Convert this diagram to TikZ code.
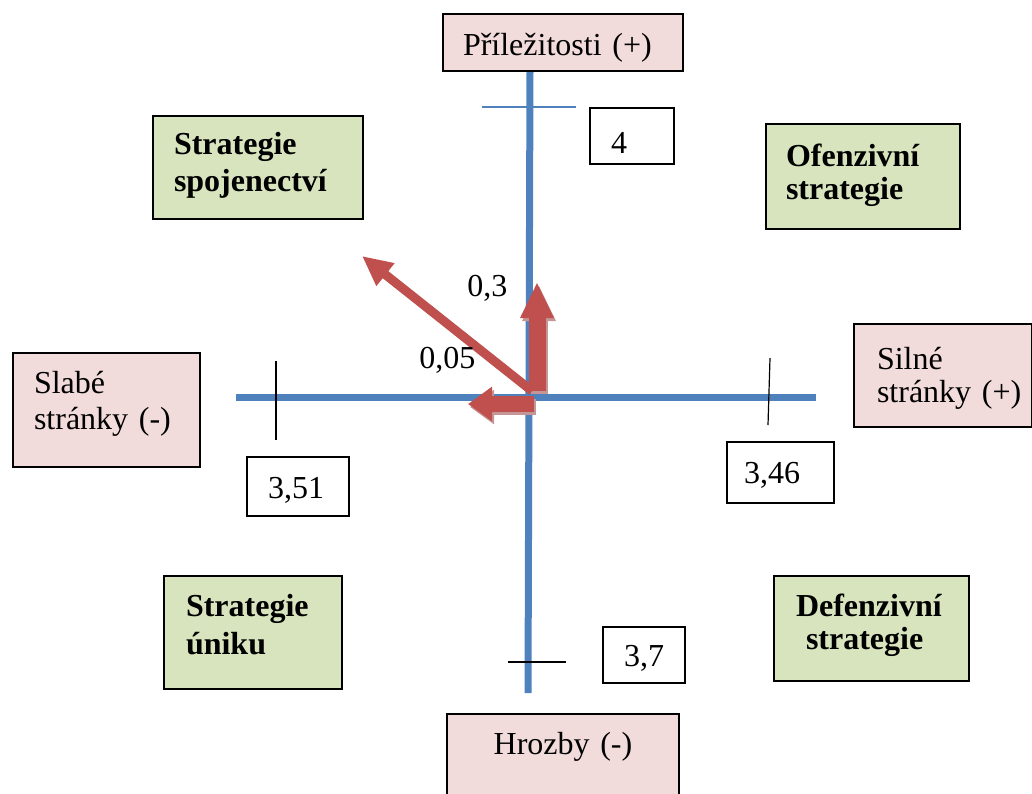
\documentclass[tikz,border=0pt]{standalone}
\usepackage{fontspec}
\setmainfont{Liberation Serif}
\usetikzlibrary{positioning,arrows.meta}
\definecolor{axisblue}{RGB}{79,129,189}
\definecolor{arrowred}{RGB}{192,80,77}
\definecolor{shadowred}{RGB}{196,150,150}
\definecolor{pinkfill}{RGB}{242,220,219}
\definecolor{greenfill}{RGB}{215,228,189}
\tikzset{
    % Define standard node styles
    basebox/.style={
        rectangle, draw=black, line width=1pt, anchor=north west,
        inner ysep=0pt, align=left, font=\fontsize{16}{18}\selectfont
    },
    pinkbox/.style={basebox, fill=pinkfill},
    greenbox/.style={basebox, fill=greenfill, font=\fontsize{16}{18.5}\selectfont\bfseries},
    valuebox/.style={basebox, fill=white},
    numlabel/.style={anchor=base west, inner sep=0pt, font=\fontsize{16}{18}\selectfont},
    axis/.style={draw=axisblue, line width=3.5pt},
    tickline/.style={draw=black, line width=1pt},
    vector/.style={draw=arrowred},
    vshadow/.style={draw=shadowred, transform canvas={xshift=1pt, yshift=-1.5pt}}
}
\begin{document}
\begin{tikzpicture}[x=0.5pt, y=-0.5pt]
\useasboundingbox (0,0) rectangle (1032,793);

% axes and scale ticks
\coordinate (vtop) at (530,70);
\coordinate (vbot) at (528,693);
\coordinate (hleft) at (236,397);
\coordinate (hright) at (816,397);
\draw[axis] (vtop) -- (vbot);
\draw[axis] (hleft) -- (hright);

\coordinate (ttop1) at (482,107);  \coordinate (ttop2) at (576,107);
\coordinate (tbot1) at (508,662);  \coordinate (tbot2) at (566,662);
\coordinate (tleft1) at (276,361); \coordinate (tleft2) at (276,440);
\coordinate (tright1) at (770,358); \coordinate (tright2) at (768,425);
\draw[draw=axisblue, line width=0.7pt] (ttop1) -- (ttop2);
\draw[tickline] (tbot1) -- (tbot2);
\draw[tickline] (tleft1) -- (tleft2);
\draw[tickline, line width=0.6pt] (tright1) -- (tright2);

% axis end boxes
\node[pinkbox, inner xsep=10pt, text width=100pt, text height=20.5pt, text depth=8pt]
    (opport) at (442,13) {Příležitosti (+)};
\node[pinkbox, inner xsep=10.5pt, text width=72.5pt, text height=20pt, text depth=37pt]
    (weak) at (12,352) {Slabé\\stránky (-)};
\node[pinkbox, inner xsep=11.5pt, text width=66pt, text height=22.5pt, text depth=29pt,
    font=\fontsize{16}{16.5}\selectfont]
    (strong) at (853,323) {Silné\\\mbox{stránky (+)}};
\node[pinkbox, inner xsep=0pt, text width=116pt, text height=20pt, text depth=40pt, align=center]
    (threat) at (446,713) {Hrozby (-)};

% values
\node[valuebox, inner xsep=10.5pt, text width=21pt, text height=22.5pt, text depth=5.5pt]
    (valtop) at (589,107) {4};
\node[valuebox, inner xsep=10.5pt, text width=30pt, text height=20.5pt, text depth=9pt]
    (valleft) at (246,456) {3,51};
\node[valuebox, inner xsep=8.5pt, text width=36.5pt, text height=20.5pt, text depth=10pt]
    (valright) at (726,441) {3,46};
\node[valuebox, inner xsep=10.5pt, text width=20pt, text height=19.5pt, text depth=8.5pt]
    (valbot) at (602,626) {\mbox{3,7}};

% strategy quadrants
\node[greenbox, inner xsep=10.5pt, text width=84pt, text height=19pt, text depth=32.5pt]
    (alliance) at (152,115) {Strategie\\spojenectví};
\node[greenbox, inner xsep=10pt, text width=77pt, text height=21pt, text depth=31.5pt,
    font=\fontsize{16}{16.5}\selectfont\bfseries]
    (offense) at (765,123) {Ofenzivní\\strategie};
\node[greenbox, inner xsep=11pt, text width=67pt, text height=20pt, text depth=36.5pt,
    font=\fontsize{16}{19}\selectfont\bfseries]
    (escape) at (163,575) {Strategie\\úniku};
\node[greenbox, inner xsep=11pt, text width=75.5pt, text height=20pt, text depth=32.5pt,
    font=\fontsize{16}{16.5}\selectfont\bfseries]
    (defense) at (773,575) {Defenzivní\\\hspace*{5pt}strategie};

% resulting vectors
\coordinate (upbase) at (537,391);   \coordinate (uptip) at (537,282);
\coordinate (leftbase) at (534,404); \coordinate (lefttip) at (468,404);
\coordinate (diagbase) at (532,391); \coordinate (diagtip) at (362,256);
\draw[vshadow, line width=8.5pt, -{Triangle[length=18pt,width=15.5pt]}] (upbase) -- (uptip);
\draw[vshadow, line width=8pt, -{Triangle[length=12pt,width=16.5pt]}] (leftbase) -- (lefttip);
\draw[vector, line width=4.5pt, -{Triangle[length=15pt,width=13.5pt]}] (diagbase) -- (diagtip);
\draw[vector, line width=8.5pt, -{Triangle[length=18pt,width=15.5pt]}] (upbase) -- (uptip);
\draw[vector, line width=8pt, -{Triangle[length=12pt,width=16.5pt]}] (leftbase) -- (lefttip);

\node[numlabel] (labup) at (467,296) {0,3};
\node[numlabel] (lableft) at (419,368) {0,05};

\end{tikzpicture}
\end{document}
